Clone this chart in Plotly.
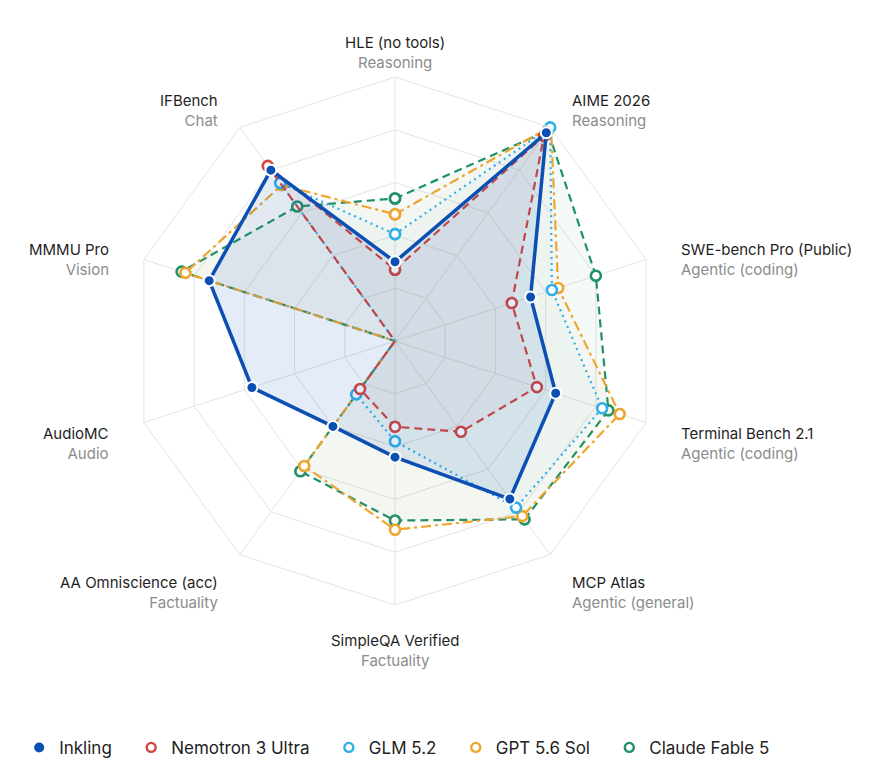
import math
import plotly.graph_objects as go

categories = ["HLE (no tools)", "AIME 2026", "SWE-bench Pro (Public)", "Terminal Bench 2.1",
              "MCP Atlas", "SimpleQA Verified", "AA Omniscience (acc)", "AudioMC",
              "MMMU Pro", "IFBench"]
subtitles = ["Reasoning", "Reasoning", "Agentic (coding)", "Agentic (coding)",
             "Agentic (general)", "Factuality", "Factuality", "Audio", "Vision", "Chat"]

series_names = ["Inkling", "Nemotron 3 Ultra", "GLM 5.2", "GPT 5.6 Sol", "Claude Fable 5"]
inkling = [30, 97.5, 54, 64, 74, 44, 40, 57, 74, 80]
nemotron = [27, 96, 46.5, 56.5, 42.5, 32.5, 22.5, 0, 0, 82]
glm = [40.5, 100, 62.5, 82.5, 78, 38, 25, 0, 0, 74]
gpt = [48, 100.5, 65, 89.5, 82, 71.5, 58.5, 0, 83.5, 73]
claude = [54, 98.5, 80, 85, 83.5, 68, 61, 0, 85, 63]

colors = {"Inkling": "#0b4fb5", "Nemotron 3 Ultra": "#d6463f", "GLM 5.2": "#2eafea",
          "GPT 5.6 Sol": "#eda52e", "Claude Fable 5": "#1e9168"}
fills = {"Inkling": "rgba(11,79,181,0.11)", "Nemotron 3 Ultra": "rgba(214,70,63,0.03)",
         "GLM 5.2": "rgba(46,175,234,0.03)", "GPT 5.6 Sol": "rgba(237,165,46,0.035)",
         "Claude Fable 5": "rgba(30,145,104,0.045)"}
dashes = {"Inkling": "solid", "Nemotron 3 Ultra": "8px,5px", "GLM 5.2": "2px,4px",
          "GPT 5.6 Sol": "10px,4px,3px,4px", "Claude Fable 5": "8px,5px"}
values = {"Inkling": inkling, "Nemotron 3 Ultra": nemotron, "GLM 5.2": glm,
          "GPT 5.6 Sol": gpt, "Claude Fable 5": claude}

W, H = 872, 771
CX, CY, R = 395, 341, 264      # polar centre and outer radius in px
LABEL_OFF, LABEL_DROP = 34.5, 10.5

fig = go.Figure()
draw_order = ["Claude Fable 5", "GPT 5.6 Sol", "GLM 5.2", "Nemotron 3 Ultra", "Inkling"]
for name in draw_order:
    v = values[name]
    filled = name == "Inkling"
    fig.add_trace(go.Scatterpolar(
        r=v + v[:1], theta=categories + categories[:1], mode="lines+markers",
        fill="toself", fillcolor=fills[name], showlegend=False, name=name,
        line=dict(color=colors[name], width=3.5 if filled else 2.2, dash=dashes[name]),
        marker=dict(size=11 if filled else 10, color=colors[name] if filled else "white",
                    line=dict(color="white" if filled else colors[name], width=2 if filled else 2.6)),
    ))

for name in series_names:
    filled = name == "Inkling"
    fig.add_trace(go.Scatterpolar(
        r=[None], theta=[None], mode="markers", name=name + "\u00a0\u00a0\u00a0", showlegend=True,
        marker=dict(size=10 if filled else 9, color=colors[name] if filled else "white",
                    line=dict(color="white" if filled else colors[name], width=0 if filled else 2.4)),
    ))

# category labels placed around the polygon
annotations = []
n = len(categories)
for i, (c, s) in enumerate(zip(categories, subtitles)):
    ang = math.radians(90 - 360 * i / n)
    ca, sa = math.cos(ang), math.sin(ang)
    px = CX + (R + LABEL_OFF) * ca
    py = CY - (R + LABEL_OFF) * sa + LABEL_DROP
    if abs(ca) < 0.1:
        xa, al = "center", "center"
    elif ca > 0:
        xa, al = "left", "left"
    else:
        xa, al = "right", "right"
    annotations.append(dict(
        x=px / W, y=1 - py / H, xref="paper", yref="paper", xanchor=xa, yanchor="middle",
        align=al, showarrow=False,
        text=f"<span style='color:#1f1f1f'>{c}</span><br><span style='color:#8c8c8c'>{s}</span>",
        font=dict(size=15, family="Inter, Liberation Sans, sans-serif"),
    ))

fig.update_layout(
    width=W, height=H,
    margin=dict(l=0, r=0, t=0, b=0, autoexpand=False),
    paper_bgcolor="white", plot_bgcolor="white",
    font=dict(family="Inter, Liberation Sans, sans-serif", size=15, color="#222222"),
    polar=dict(
        domain=dict(x=[(CX - 300) / W, (CX + 300) / W], y=[1 - (CY + R) / H, 1 - (CY - R) / H]),
        bgcolor="white",
        gridshape="linear",
        radialaxis=dict(range=[0, 100], tickvals=[20, 40, 60, 80, 100], showticklabels=False,
                        showline=False, ticks="", gridcolor="#e3e3e3", gridwidth=1),
        angularaxis=dict(categoryorder="array", categoryarray=categories,
                         showticklabels=False, ticks="",
                         direction="clockwise", rotation=90,
                         gridcolor="#e3e3e3", linecolor="#e3e3e3", linewidth=1),
    ),
    annotations=annotations,
    legend=dict(orientation="h", xref="container", yref="container", x=0.022, y=0.03,
                xanchor="left", yanchor="middle", font=dict(size=17, color="#222222")),
    showlegend=True,
)

fig.write_html("out.html")
